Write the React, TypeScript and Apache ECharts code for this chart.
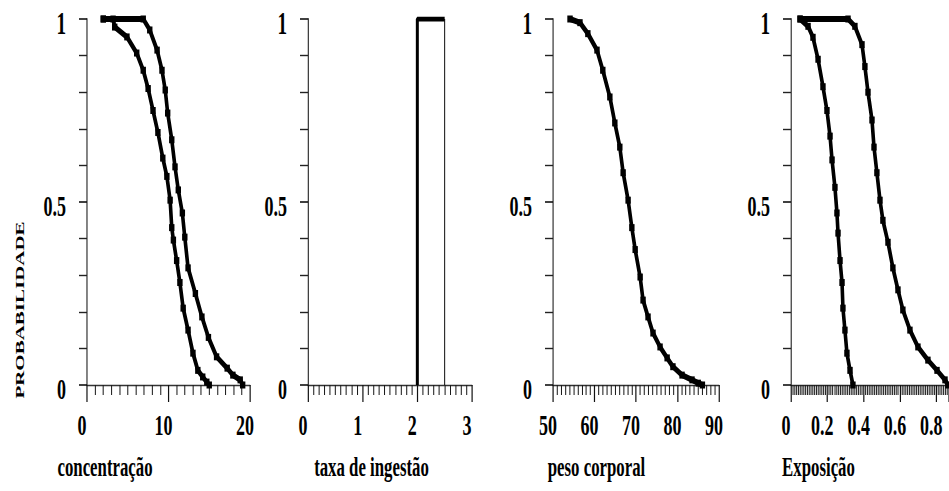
import { useEffect, useRef } from 'react';
import * as echarts from 'echarts';

// Page size and the wider drawing surface that is squeezed horizontally
const W = 949;
const H = 491;
const CW = 1582;
const S = W / CW;

const FONT = 'Liberation Serif';

// concentração: two exceedance curves
const concAx = [2.0, 3.2, 3.4, 4.9, 6.1, 6.9, 7.5, 8.1, 8.7, 9.3, 9.8, 10.2, 10.4, 10.6, 11.0, 11.4, 11.8, 12.4, 13.0, 13.6, 14.2, 14.7, 15.0];
const concAy = [1, 1, 0.978, 0.951, 0.907, 0.86, 0.81, 0.75, 0.69, 0.62, 0.57, 0.505, 0.43, 0.396, 0.34, 0.28, 0.21, 0.15, 0.087, 0.04, 0.022, 0.008, 0];
const concBx = [2.0, 6.9, 7.7, 8.6, 9.2, 9.6, 9.9, 10.4, 10.8, 11.2, 11.7, 12.0, 12.4, 13.3, 14.1, 14.9, 15.9, 17.2, 17.9, 18.8, 19.1];
const concBy = [1, 1, 0.97, 0.915, 0.86, 0.806, 0.743, 0.67, 0.596, 0.533, 0.47, 0.404, 0.32, 0.25, 0.186, 0.13, 0.077, 0.046, 0.027, 0.014, 0];

// taxa de ingestão: lower and upper value
const taxaValores = [2.0, 2.5];

// peso corporal
const pesoX = [54.1, 56.5, 58.4, 60.6, 62.0, 63.7, 64.9, 66.1, 66.9, 68.1, 69.0, 69.8, 71.0, 71.7, 72.9, 74.1, 75.8, 77.5, 78.9, 81.1, 83.5, 85.0, 86.0];
const pesoY = [1, 0.99, 0.96, 0.915, 0.86, 0.787, 0.716, 0.65, 0.58, 0.505, 0.43, 0.37, 0.295, 0.232, 0.186, 0.142, 0.104, 0.074, 0.05, 0.027, 0.014, 0.005, 0];

// Exposição: two exceedance curves
const expAx = [0.05, 0.094, 0.121, 0.149, 0.176, 0.198, 0.215, 0.226, 0.242, 0.253, 0.259, 0.27, 0.281, 0.286, 0.297, 0.308, 0.325, 0.341];
const expAy = [1, 0.98, 0.95, 0.89, 0.815, 0.75, 0.68, 0.615, 0.54, 0.47, 0.415, 0.34, 0.28, 0.21, 0.15, 0.087, 0.04, 0];
const expBx = [0.05, 0.314, 0.352, 0.391, 0.407, 0.424, 0.446, 0.457, 0.473, 0.49, 0.506, 0.534, 0.561, 0.589, 0.616, 0.655, 0.699, 0.754, 0.804, 0.848, 0.864];
const expBy = [1, 1, 0.98, 0.93, 0.87, 0.8, 0.724, 0.65, 0.58, 0.505, 0.45, 0.39, 0.32, 0.26, 0.205, 0.15, 0.104, 0.068, 0.04, 0.014, 0];

const zip = (xs: number[], ys: number[]) => xs.map((x, i) => [x, ys[i]]);

// Panel layout in page pixels
const panels = [
  { left: 87, right: 250, min: 0, max: 20, interval: 10, minorSplit: 10, name: 'concentração', nameCenter: 105 },
  { left: 308, right: 472, min: 0, max: 3, interval: 1, minorSplit: 10, name: 'taxa de ingestão', nameCenter: 371.5 },
  { left: 553, right: 719, min: 50, max: 90, interval: 10, minorSplit: 10, name: 'peso corporal', nameCenter: 596.5 },
  { left: 791, right: 949, min: 0, max: 0.87, interval: 0.2, minorSplit: 20, name: 'Exposição', nameCenter: 818.5 },
];

const TOP = 19;
const BOTTOM = 385;

export default function App() {
  const ref = useRef<HTMLDivElement>(null);

  useEffect(() => {
    if (!ref.current) return;
    const chart = echarts.init(ref.current, undefined, { renderer: 'svg' });

    const grid = panels.map((p) => ({
      left: p.left / S,
      width: (p.right - p.left) / S,
      top: TOP,
      height: BOTTOM - TOP,
      containLabel: false,
    }));

    const xAxis = panels.map((p, i) => {
      const shift = (p.nameCenter - (p.left + p.right) / 2) / S;
      const pad = shift < 0 ? [0, -2 * shift, 0, 0] : [0, 0, 0, 2 * shift];
      return {
        type: 'value',
        gridIndex: i,
        min: p.min,
        max: p.max,
        interval: p.interval,
        axisLine: { show: true, onZero: false, lineStyle: { color: '#333', width: 1.4 } },
        axisTick: { show: true, length: 17, lineStyle: { color: '#111', width: 2 } },
        minorTick: { show: true, splitNumber: p.minorSplit, length: 10, lineStyle: { color: '#1a1a1a', width: 1.7 } },
        splitLine: { show: false },
        axisLabel: {
          fontFamily: FONT,
          fontSize: 30,
          fontWeight: 'bold',
          color: '#000',
          margin: 25,
          padding: [0, 10 / S, 0, 0],
          showMaxLabel: i === 3 ? false : null,
        },
        name: p.name,
        nameLocation: 'middle',
        nameGap: 67,
        nameTextStyle: { fontFamily: FONT, fontSize: 28, fontWeight: 'bold', color: '#000', padding: pad },
      };
    });

    const yAxis = panels.map((_, i) => ({
      type: 'value',
      gridIndex: i,
      min: 0,
      max: 1,
      interval: 0.5,
      axisLine: { show: true, lineStyle: { color: '#333', width: 2 } },
      axisTick: { show: true, length: 8 / S, lineStyle: { color: '#111', width: 1.6 } },
      minorTick: { show: true, splitNumber: 5, length: 8 / S, lineStyle: { color: '#222', width: 1.4 } },
      splitLine: { show: false },
      axisLabel: {
        fontFamily: FONT,
        fontSize: 30,
        fontWeight: 'bold',
        color: '#000',
        margin: 21 / S,
        padding: [8, 0, 0, 0],
        formatter: (v: number) => (v === 1 ? '{b|1}' : String(v)),
        rich: { b: { fontFamily: FONT, fontSize: 32, fontWeight: 'bold', color: '#000' } },
      },
    }));

    const curve = (i: number, data: number[][]) => ({
      type: 'line',
      xAxisIndex: i,
      yAxisIndex: i,
      data,
      symbol: 'rect',
      symbolSize: [9, 7],
      lineStyle: { color: '#000', width: 6 },
      itemStyle: { color: '#000' },
      z: 3,
    });

    const [tLo, tHi] = taxaValores;

    chart.setOption({
      animation: false,
      backgroundColor: '#fff',
      grid,
      xAxis,
      yAxis,
      series: [
        curve(0, zip(concAx, concAy)),
        curve(0, zip(concBx, concBy)),
        {
          type: 'line',
          xAxisIndex: 1,
          yAxisIndex: 1,
          data: [[tLo, 0], [tLo, 1], [tHi, 1]],
          symbol: 'none',
          lineStyle: { color: '#000', width: 5 },
          z: 3,
        },
        {
          type: 'line',
          xAxisIndex: 1,
          yAxisIndex: 1,
          data: [[tHi, 1], [tHi, 0]],
          symbol: 'none',
          lineStyle: { color: '#000', width: 1.6 },
          z: 2,
        },
        curve(2, zip(pesoX, pesoY)),
        curve(3, zip(expAx, expAy)),
        curve(3, zip(expBx, expBy)),
      ],
      graphic: [
        {
          type: 'text',
          x: 20 / S,
          y: 310,
          rotation: Math.PI / 2,
          style: {
            text: 'PROBABILIDADE',
            fontFamily: FONT,
            fontSize: 21,
            fontWeight: 'bold',
            fill: '#000',
            align: 'center',
            verticalAlign: 'middle',
          },
        },
      ],
    });

    return () => chart.dispose();
  }, []);

  return (
    <div style={{ position: 'absolute', left: 0, top: 0, width: W, height: H, overflow: 'hidden', background: '#fff' }}>
      <div
        ref={ref}
        style={{ width: CW, height: H, transform: `scaleX(${S})`, transformOrigin: '0 0' }}
      />
    </div>
  );
}
